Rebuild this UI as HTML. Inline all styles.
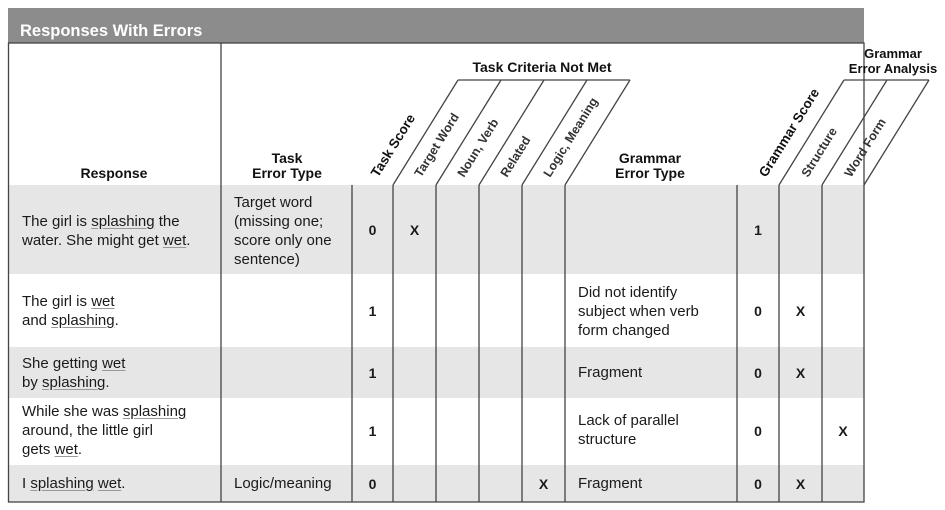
<!DOCTYPE html>
<html><head><meta charset="utf-8"><style>
html,body{margin:0;padding:0;background:#fff;width:945px;height:510px;overflow:hidden;position:relative}
.t{position:absolute;font-family:"Liberation Sans",sans-serif;font-size:15px;line-height:19px;color:#1a1a1a;white-space:nowrap}
.u{text-decoration:underline;text-decoration-color:#999;text-underline-offset:2px}
.n{position:absolute;font-family:"Liberation Sans",sans-serif;font-size:14px;font-weight:bold;color:#1a1a1a;text-align:center;line-height:16px}
</style></head><body>
<svg width="945" height="510" style="position:absolute;left:0;top:0" xmlns="http://www.w3.org/2000/svg">
<rect x="8" y="8" width="856" height="35" fill="#8c8c8c"/>
<text x="20" y="36" font-family="Liberation Sans" font-weight="bold" font-size="16.5" fill="#fff">Responses With Errors</text>
<rect x="8" y="185" width="856" height="89" fill="#e6e6e6"/>
<rect x="8" y="347" width="856" height="51" fill="#e6e6e6"/>
<rect x="8" y="465" width="856" height="37" fill="#e6e6e6"/>
<g stroke="#444" stroke-width="1.3" fill="none">
<rect x="8.5" y="43" width="855.5" height="459"/>
<line x1="221" y1="43" x2="221" y2="502"/>
<line x1="352" y1="185" x2="352" y2="502"/>
<line x1="393" y1="185" x2="393" y2="502"/>
<line x1="436" y1="185" x2="436" y2="502"/>
<line x1="479" y1="185" x2="479" y2="502"/>
<line x1="522" y1="185" x2="522" y2="502"/>
<line x1="565" y1="185" x2="565" y2="502"/>
<line x1="737" y1="185" x2="737" y2="502"/>
<line x1="779" y1="185" x2="779" y2="502"/>
<line x1="822" y1="185" x2="822" y2="502"/>
<line x1="393" y1="185" x2="458" y2="80"/>
<line x1="436" y1="185" x2="501" y2="80"/>
<line x1="479" y1="185" x2="544" y2="80"/>
<line x1="522" y1="185" x2="587" y2="80"/>
<line x1="565" y1="185" x2="630" y2="80"/>
<line x1="458" y1="80" x2="630" y2="80"/>
<line x1="779" y1="185" x2="844" y2="80"/>
<line x1="822" y1="185" x2="887" y2="80"/>
<line x1="864" y1="185" x2="929" y2="80"/>
<line x1="844" y1="80" x2="929" y2="80"/>
</g>
<g font-family="Liberation Sans" font-weight="bold" font-size="13" fill="#111">
<text x="114" y="178" text-anchor="middle" font-size="14">Response</text>
<text x="287" y="163" text-anchor="middle" font-size="14">Task</text>
<text x="287" y="178" text-anchor="middle" font-size="14">Error Type</text>
<text x="650" y="163" text-anchor="middle" font-size="14">Grammar</text>
<text x="650" y="178" text-anchor="middle" font-size="14">Error Type</text>
<text x="542" y="72" text-anchor="middle" font-size="14">Task Criteria Not Met</text>
<text x="893" y="58" text-anchor="middle" font-size="13">Grammar</text>
<text x="893" y="73" text-anchor="middle" font-size="13">Error Analysis</text>
<text transform="translate(378,178) rotate(-58)" font-size="13.5">Task Score</text>
<text transform="translate(421,178) rotate(-58)" font-size="12.5" fill="#333">Target Word</text>
<text transform="translate(464,178) rotate(-58)" font-size="12.5" fill="#333">Noun, Verb</text>
<text transform="translate(507,178) rotate(-58)" font-size="12.5" fill="#333">Related</text>
<text transform="translate(550,178) rotate(-58)" font-size="12.5" fill="#333">Logic, Meaning</text>
<text transform="translate(766,178) rotate(-58)" font-size="13.5">Grammar Score</text>
<text transform="translate(808,178) rotate(-58)" font-size="12.5" fill="#333">Structure</text>
<text transform="translate(851,178) rotate(-58)" font-size="12.5" fill="#333">Word Form</text>
</g>
</svg>

<div class="t" style="left:22px;top:212px">The girl is <span class="u">splashing</span> the<br>water. She might get <span class="u">wet</span>.</div>
<div class="t" style="left:234px;top:193px">Target word<br>(missing one;<br>score only one<br>sentence)</div>
<div class="t" style="left:22px;top:292px">The girl is <span class="u">wet</span><br>and <span class="u">splashing</span>.</div>
<div class="t" style="left:578px;top:283px">Did not identify<br>subject when verb<br>form changed</div>
<div class="t" style="left:22px;top:354px">She getting <span class="u">wet</span><br>by <span class="u">splashing</span>.</div>
<div class="t" style="left:578px;top:363px">Fragment</div>
<div class="t" style="left:22px;top:402px">While she was <span class="u">splashing</span><br>around, the little girl<br>gets <span class="u">wet</span>.</div>
<div class="t" style="left:578px;top:411px">Lack of parallel<br>structure</div>
<div class="t" style="left:22px;top:474px">I <span class="u">splashing</span> <span class="u">wet</span>.</div>
<div class="t" style="left:234px;top:474px">Logic/meaning</div>
<div class="t" style="left:578px;top:474px">Fragment</div>

<div class="n" style="left:352px;width:41px;top:222px">0</div>
<div class="n" style="left:393px;width:43px;top:222px">X</div>
<div class="n" style="left:737px;width:42px;top:222px">1</div>

<div class="n" style="left:352px;width:41px;top:303px">1</div>
<div class="n" style="left:737px;width:42px;top:303px">0</div>
<div class="n" style="left:779px;width:43px;top:303px">X</div>

<div class="n" style="left:352px;width:41px;top:365px">1</div>
<div class="n" style="left:737px;width:42px;top:365px">0</div>
<div class="n" style="left:779px;width:43px;top:365px">X</div>

<div class="n" style="left:352px;width:41px;top:423px">1</div>
<div class="n" style="left:737px;width:42px;top:423px">0</div>
<div class="n" style="left:822px;width:42px;top:423px">X</div>

<div class="n" style="left:352px;width:41px;top:476px">0</div>
<div class="n" style="left:522px;width:43px;top:476px">X</div>
<div class="n" style="left:737px;width:42px;top:476px">0</div>
<div class="n" style="left:779px;width:43px;top:476px">X</div>
</body></html>
